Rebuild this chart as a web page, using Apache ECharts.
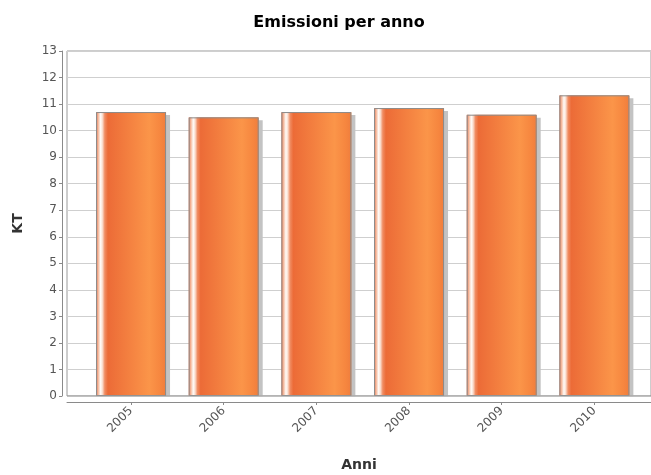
<!DOCTYPE html>
<html>
<head>
<meta charset="utf-8">
<script src="https://cdn.jsdelivr.net/npm/echarts@6/dist/echarts.min.js"></script>
<style>
  html, body { margin: 0; padding: 0; background: #fff; }
  #chart { width: 651px; height: 475px; }
</style>
</head>
<body>
<div id="chart"></div>
<script>
// Annual emissions, kilotonnes
const years = ['2005', '2006', '2007', '2008', '2009', '2010'];
const emissions = [10.7, 10.5, 10.7, 10.85, 10.6, 11.33];
const yTicks = { min: 0, max: 13, step: 1 };

const FONT = 'DejaVu Sans';
const plot = { left: 67, right: 0, top: 51, bottom: 79 };

// glossy orange fill, lit from the left
const barFill = new echarts.graphic.LinearGradient(0, 0, 1, 0, [
  { offset: 0.00, color: '#ea7a52' },
  { offset: 0.035, color: '#f6c0a6' },
  { offset: 0.065, color: '#fffbf8' },
  { offset: 0.09, color: '#fbe0d2' },
  { offset: 0.125, color: '#f08c62' },
  { offset: 0.17, color: '#ec6b37' },
  { offset: 0.76, color: '#fb9549' },
  { offset: 0.92, color: '#f6863f' },
  { offset: 1.00, color: '#ef7d3d' }
]);

const chart = echarts.init(document.getElementById('chart'));
chart.setOption({
  animation: false,
  backgroundColor: '#fff',
  title: {
    text: 'Emissioni per anno',
    left: 334, top: 10, textAlign: 'center',
    textStyle: { fontFamily: FONT, fontSize: 16, fontWeight: 'bold', color: '#000' }
  },
  grid: [
    Object.assign({ show: true, borderColor: '#9a9a9a', borderWidth: 1, backgroundColor: '#fff',
                    containLabel: false, outerBoundsMode: 'none' }, plot),
    { left: 84.7, right: 10.3, top: plot.top, bottom: plot.bottom,
      containLabel: false, outerBoundsMode: 'none' }
  ],
  xAxis: [
    {
      gridIndex: 0, type: 'value', min: 0, max: 1,
      offset: 6,
      axisLine: { show: true, onZero: false, lineStyle: { color: '#8a8a8a', width: 1 } },
      axisTick: { show: false }, axisLabel: { show: false }, splitLine: { show: false },
      name: 'Anni', nameLocation: 'middle', nameGap: 56,
      nameTextStyle: { fontFamily: FONT, fontSize: 14, fontWeight: 'bold', color: '#333' }
    },
    {
      gridIndex: 1, type: 'category', data: years,
      offset: 6,
      axisLine: { show: false, onZero: false },
      axisTick: { show: true, alignWithLabel: true, length: 3, lineStyle: { color: '#8a8a8a' } },
      axisLabel: { rotate: 45, margin: 7, fontFamily: FONT, fontSize: 12, color: '#555' }
    }
  ],
  yAxis: [
    {
      gridIndex: 0, type: 'value', min: yTicks.min, max: yTicks.max, interval: yTicks.step,
      offset: 5,
      axisLine: { show: true, onZero: false, lineStyle: { color: '#8a8a8a', width: 1 } },
      axisTick: { show: true, length: 3, lineStyle: { color: '#8a8a8a' } },
      axisLabel: { margin: 5, fontFamily: FONT, fontSize: 12, color: '#555' },
      splitLine: { show: true, lineStyle: { color: '#cfcfcf', width: 1 } },
      name: 'KT', nameLocation: 'middle', nameGap: 37,
      nameTextStyle: { fontFamily: FONT, fontSize: 14, fontWeight: 'bold', color: '#333' }
    },
    {
      gridIndex: 1, type: 'value', min: yTicks.min, max: yTicks.max, interval: yTicks.step,
      show: false
    }
  ],
  series: [
    // filled bars casting a flat grey shadow
    {
      type: 'bar', xAxisIndex: 1, yAxisIndex: 1,
      data: emissions, barWidth: 70, z: 2,
      itemStyle: {
        color: barFill, borderWidth: 0,
        shadowColor: '#c3c3c3', shadowOffsetX: 4, shadowOffsetY: 3, shadowBlur: 0
      }
    },
    // outlines drawn on top of the fills
    {
      type: 'bar', xAxisIndex: 1, yAxisIndex: 1,
      data: emissions, barWidth: 70, barGap: '-100%', z: 3,
      itemStyle: { color: 'rgba(0,0,0,0)', borderColor: '#8c8c8c', borderWidth: 1 }
    }
  ]
});

// trim the bar shadows at the plot floor, then redraw the floor line
const floorY = chart.convertToPixel({ xAxisIndex: 0, yAxisIndex: 0 }, [0, 0])[1];
const leftX = chart.convertToPixel({ xAxisIndex: 0, yAxisIndex: 0 }, [0, 0])[0];
const rightX = chart.convertToPixel({ xAxisIndex: 0, yAxisIndex: 0 }, [1, 0])[0];
chart.setOption({
  graphic: [
    { type: 'rect', z: 100, silent: true,
      shape: { x: leftX, y: floorY + 0.5, width: rightX - leftX, height: 4 },
      style: { fill: '#fff' } },
    { type: 'line', z: 101, silent: true,
      shape: { x1: leftX, y1: floorY, x2: rightX, y2: floorY },
      style: { stroke: '#9a9a9a', lineWidth: 1 } }
  ]
});
</script>
</body>
</html>
